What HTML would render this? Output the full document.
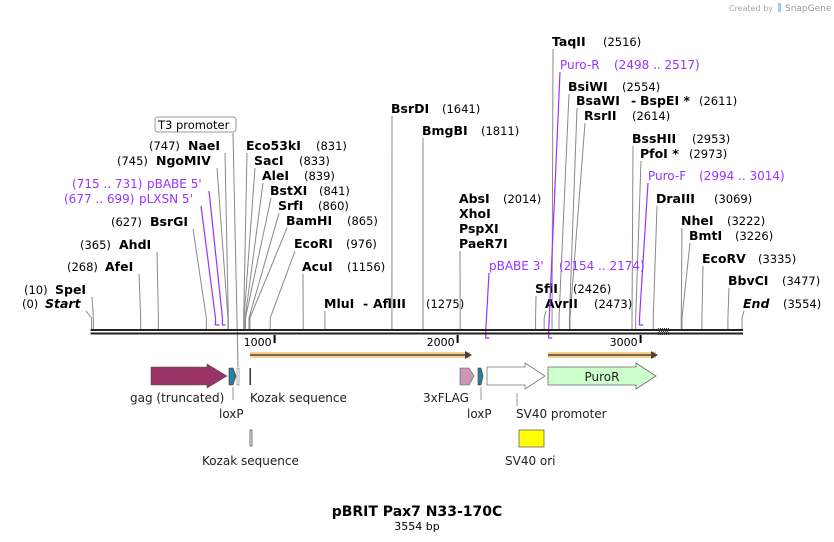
<!DOCTYPE html>
<html><head><meta charset="utf-8">
<style>
body{margin:0;background:#fff;}
svg{display:block;font-family:"DejaVu Sans","Liberation Sans",sans-serif;}
.n{font-weight:bold;font-size:12.5px;fill:#000;}
.p{font-size:11.5px;fill:#000;}
.pr{font-size:12px;fill:#9933ff;}
.f{font-size:12px;fill:#222;}
</style></head>
<body>
<svg id="map" width="834" height="542" viewBox="0 0 834 542">
<defs>
<pattern id="chk" width="2" height="2" patternUnits="userSpaceOnUse"><rect width="1" height="1" fill="#333"/><rect x="1" y="1" width="1" height="1" fill="#333"/></pattern>
</defs>
<g id="sites"></g>
<g id="backbone"></g>
<g id="features">
  <line x1="250" y1="355" x2="470" y2="355" stroke="#fbd08a" stroke-width="6"/>
  <line x1="250" y1="355" x2="466" y2="355" stroke="#444" stroke-width="1.5"/>
  <polygon points="465,351 472,355 465,359" fill="#444"/>
  <line x1="548" y1="355" x2="656" y2="355" stroke="#fbd08a" stroke-width="6"/>
  <line x1="548" y1="355" x2="652" y2="355" stroke="#444" stroke-width="1.5"/>
  <polygon points="651,351 658,355 651,359" fill="#444"/>
  <polygon points="151,367 207,367 207,364 227,376 207,388 207,385 151,385" fill="#993366" stroke="#555" stroke-width="0.6"/>
  <polygon points="229,368 233,368 236,376 233,385 229,385" fill="#2a7f9e" stroke="#333" stroke-width="0.6"/>
  <rect x="237" y="368" width="2" height="17" fill="#fff" stroke="#777" stroke-width="0.6"/>
  <rect x="249.5" y="368" width="1.5" height="17" fill="#333"/>
  <polygon points="460,368 469,368 474,376 469,385 460,385" fill="#cc99b4" stroke="#555" stroke-width="0.6"/>
  <polygon points="478,368 481,368 483,376 481,385 478,385" fill="#2a7f9e" stroke="#333" stroke-width="0.6"/>
  <polygon points="487,367 525,367 525,363 545,376 525,389 525,385 487,385" fill="#fff" stroke="#777" stroke-width="0.8"/>
  <polygon points="548,367 636,367 636,363 656,376 636,389 636,385 548,385" fill="#ccffcc" stroke="#666" stroke-width="0.8"/>
  <text x="602" y="381" text-anchor="middle" class="f">PuroR</text>
  <text x="130" y="402" class="f">gag (truncated)</text>
  <line x1="233" y1="387" x2="233" y2="400" stroke="#999"/>
  <text x="219" y="418" class="f">loxP</text>
  <text x="250" y="402" class="f">Kozak sequence</text>
  <text x="423" y="402" class="f">3xFLAG</text>
  <line x1="481" y1="387" x2="481" y2="400" stroke="#999"/>
  <text x="467" y="418" class="f">loxP</text>
  <line x1="517" y1="393" x2="517" y2="406" stroke="#999"/>
  <text x="516" y="418" class="f">SV40 promoter</text>
  <rect x="250" y="430" width="2" height="16" fill="#eee" stroke="#555" stroke-width="0.8"/>
  <text x="202" y="465" class="f">Kozak sequence</text>
  <rect x="519" y="430" width="25" height="17" fill="#ffff00" stroke="#666" stroke-width="0.8"/>
  <text x="505" y="465" class="f">SV40 ori</text>
</g>
<text x="417" y="516" text-anchor="middle" style="font-weight:bold;font-size:14px">pBRIT Pax7 N33-170C</text>
<text x="417" y="530" text-anchor="middle" style="font-size:11px">3554 bp</text>
<text x="773" y="11" text-anchor="end" style="font-size:8px;fill:#aaa">Created by</text>
<rect x="778" y="3" width="3" height="9" fill="#8fd3f0"/>
<text x="785" y="11" style="font-size:9px;fill:#999">SnapGene</text>
</svg>
<script>
// plasmid data
const totalLength = 3554;
const tickValues = [1000, 2000, 3000];
const siteNames = ["Start","SpeI","AfeI","AhdI","BsrGI","NgoMIV","NaeI","Eco53kI","SacI","AleI","BstXI","SrfI","BamHI","EcoRI","AcuI","MluI - AflIII","BsrDI","BmgBI","AbsI","SfiI","AvrII","TaqII","BsiWI","BsaWI - BspEI *","RsrII","BssHII","PfoI *","DraIII","NheI","BmtI","EcoRV","BbvCI","End"];
const sitePositions = [0,10,268,365,627,745,747,831,833,839,841,860,865,976,1156,1275,1641,1811,2014,2426,2473,2516,2554,2611,2614,2953,2973,3069,3222,3226,3335,3477,3554];
const primerNames = ["pLXSN 5'","pBABE 5'","pBABE 3'","Puro-R","Puro-F"];
const primerStarts = [677,715,2154,2498,2994];
const primerEnds = [699,731,2174,2517,3014];
const primerStrand = [1,1,-1,-1,1];

// layout (label anchor positions; px = x of position number)
const siteLayout = [
 {x:45,y:308,px:22,lx:86,italic:true},{x:55,y:294,px:24,lx:92},{x:105,y:271,px:67,lx:139},{x:119,y:249,px:80,lx:157},{x:150,y:226,px:111,lx:193},
 {x:156,y:165,px:117,lx:217},{x:188,y:150,px:149,lx:225},
 {x:246,y:150,px:316},{x:254,y:165,px:299},{x:262,y:180,px:304},{x:270,y:195,px:319},{x:278,y:210,px:318},{x:286,y:225,px:347},{x:294,y:248,px:346},{x:302,y:271,px:347},
 {x:324,y:308,px:426,parts:[["MluI",324],["-",363],["AflIII",373]]},{x:391,y:113,px:442},{x:422,y:135,px:481},{x:459,y:203,px:503,extra:["XhoI","PspXI","PaeR7I"]},
 {x:535,y:293,px:573},{x:545,y:308,px:594},{x:552,y:46,px:603},{x:568,y:91,px:622},{x:576,y:105,px:699,parts:[["BsaWI",576],["-",631],["BspEI *",640]]},{x:584,y:120,px:632},
 {x:632,y:143,px:692},{x:640,y:158,px:689},{x:656,y:203,px:714},{x:681,y:225,px:727},{x:689,y:240,px:735},{x:702,y:263,px:758},{x:728,y:285,px:782},{x:743,y:308,px:783,italic:true}
];
const primerLayout = [{lx:139,nx:64,y:203,ax:201},{lx:147,nx:72,y:188,ax:209},{lx:489,nx:559,y:270,ax:489},{lx:560,nx:614,y:69,ax:560},{lx:648,nx:699,y:180,ax:648}];

const X0 = 91.6, X1 = 742;
function xScale(bp){ return X0 + (X1 - X0) * bp / totalLength; }
const NS = "http://www.w3.org/2000/svg";
function mk(tag, attrs, parent){ const e=document.createElementNS(NS,tag); for(const k in attrs) e.setAttribute(k,attrs[k]); parent.appendChild(e); return e; }

const sitesG = document.getElementById('sites');
const bb = document.getElementById('backbone');

let r1 = mk('rect',{x:X0-1,y:329,width:X1-X0+2,height:2,fill:'#222'},bb);


let r2 = mk('rect',{x:X0-1,y:332.5,width:X1-X0+2,height:2,fill:'#222'},bb);


let chk = mk('rect',{x:658,y:328,width:11,height:7,fill:'url(#chk)'},bb);


tickValues.forEach(t=>{
  const x = xScale(t);
  const tl = mk('line',{x1:x,y1:335,x2:x,y2:343,stroke:'#000','stroke-width':2},bb);
  
  
  const tt = mk('text',{x:x-3,y:346,'text-anchor':'end','font-size':'11px'},bb);
  tt.textContent = t;
  
  
});
let t3 = mk('line',{x1:233,y1:133,x2:238,y2:367,stroke:'#888','stroke-width':1},sitesG);


let t3b = mk('rect',{x:155,y:117,width:81,height:15,rx:3,fill:'#fff',stroke:'#999'},sitesG);


let t3t = mk('text',{x:158,y:129,'font-size':'11.5px'},sitesG);
t3t.textContent='T3 promoter';



siteNames.forEach((name,i)=>{
  const L = siteLayout[i];
  const sx = xScale(sitePositions[i]);
  const extraLines = L.extra ? L.extra.length : 0;
  const ly = L.y + 3 + extraLines*15;
  const lx = (L.lx !== undefined) ? L.lx : L.x + 1;
  const pl = mk('polyline',{points:`${lx},${ly} ${sx},318 ${sx},329`,fill:'none',stroke:'#888','stroke-width':1},sitesG);
  
  
});
siteNames.forEach((name,i)=>{
  const L = siteLayout[i];
  const g = mk('g',{},sitesG);
  
  
  if(L.parts){
    L.parts.forEach(p=>{ const t=mk('text',{x:p[1],y:L.y,class:'n'},g); t.textContent=p[0]; });
  } else {
    const nt = mk('text',{x:L.x,y:L.y,class:'n'},g);
    if(L.italic) nt.setAttribute('font-style','italic');
    nt.textContent = name;
  }
  const pt = mk('text',{x:L.px,y:L.y,class:'p'},g);
  pt.textContent = '('+sitePositions[i]+')';
  if(L.extra){ L.extra.forEach((e,k)=>{ const et=mk('text',{x:L.x,y:L.y+15*(k+1),class:'n'},g); et.textContent=e; }); }
});

primerNames.forEach((name,i)=>{
  const L = primerLayout[i];
  const a = xScale(primerStarts[i]), b = xScale(primerEnds[i]);
  const g = mk('g',{},sitesG);
  
  
  const fwd = primerStrand[i] > 0;
  const by = fwd ? 325 : 338;
  mk('polyline',{points:`${L.ax},${L.y+3} ${a},${fwd?318:330} ${a},${by} ${b},${by}`,fill:'none',stroke:'#9933ff','stroke-width':1.2},g);
  const nt = mk('text',{x:L.lx,y:L.y,class:'pr'},g);
  nt.textContent = name;
  const pt = mk('text',{x:L.nx,y:L.y,class:'pr'},g);
  pt.textContent = '('+primerStarts[i]+' .. '+primerEnds[i]+')';
});
</script>
</body></html>
